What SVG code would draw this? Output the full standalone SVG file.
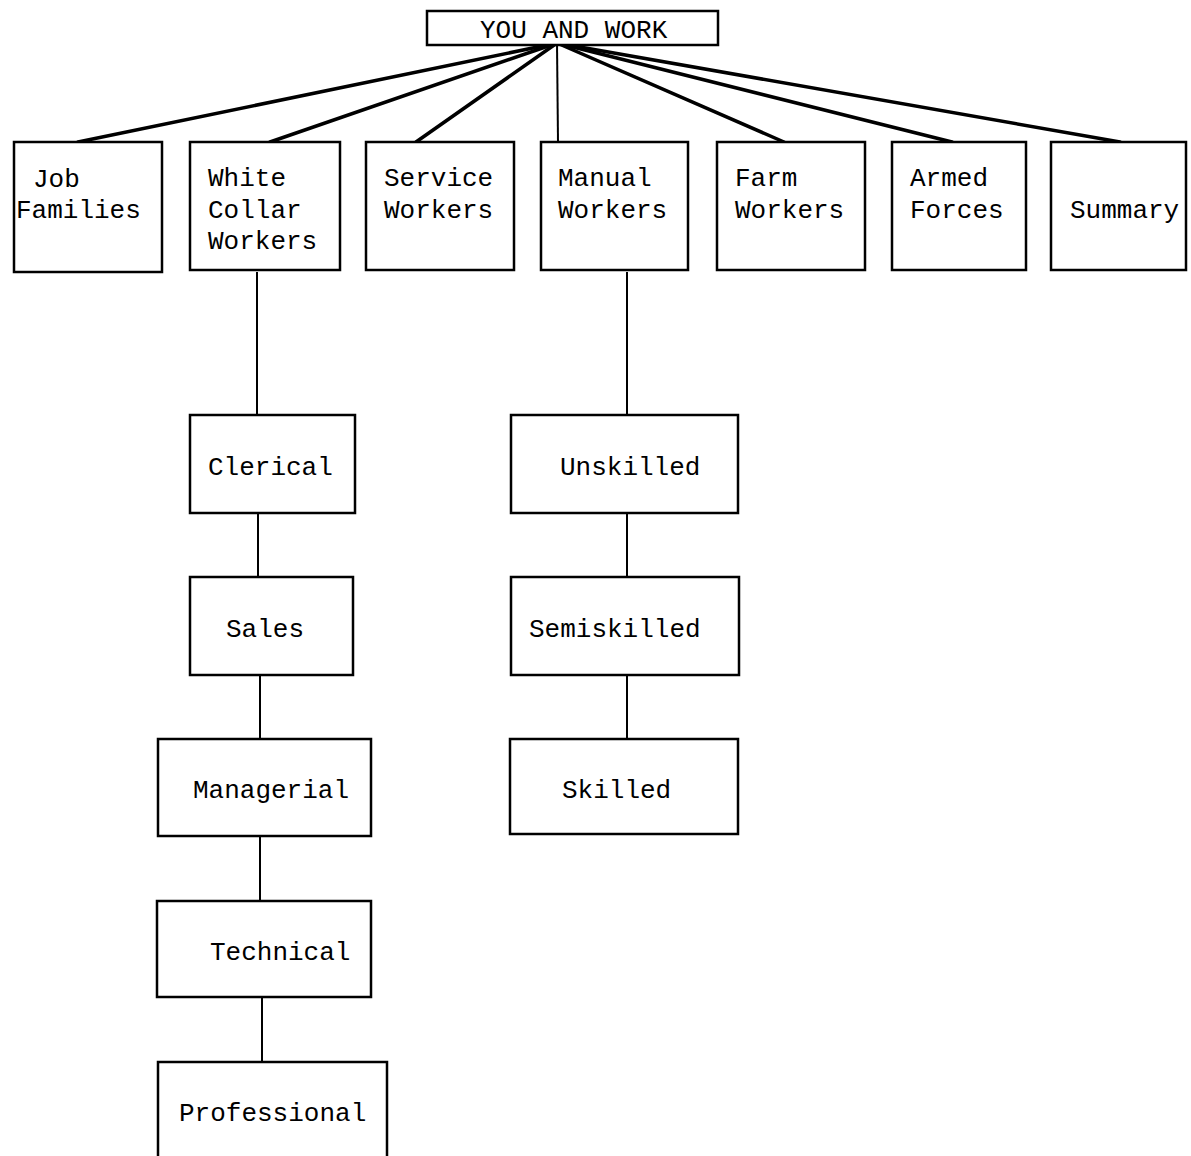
<svg xmlns="http://www.w3.org/2000/svg" width="1191" height="1156" viewBox="0 0 1191 1156">
<style>
.box{fill:#fff;stroke:#000;stroke-width:2.5}
.t{font-family:"Liberation Mono","DejaVu Sans Mono",monospace;font-size:26px;fill:#000}
.thick{stroke:#000;stroke-width:3.5;fill:none;stroke-linecap:round}
.thin{stroke:#000;stroke-width:2;fill:none}
</style>
<rect width="1191" height="1156" fill="#fff"/>
<g id="connectors">
<line class="thick" x1="557" y1="43" x2="78" y2="142"/>
<line class="thick" x1="557" y1="43" x2="270" y2="142"/>
<line class="thick" x1="557" y1="43" x2="416" y2="142"/>
<line class="thin" x1="557" y1="43" x2="558" y2="142"/>
<line class="thick" x1="557" y1="43" x2="784" y2="142"/>
<line class="thick" x1="557" y1="43" x2="952" y2="142"/>
<line class="thick" x1="557" y1="43" x2="1120" y2="142"/>
<line class="thin" x1="257" y1="272" x2="257" y2="415"/>
<line class="thin" x1="258" y1="513" x2="258" y2="577"/>
<line class="thin" x1="260" y1="675" x2="260" y2="739"/>
<line class="thin" x1="260" y1="836" x2="260" y2="901"/>
<line class="thin" x1="262" y1="997" x2="262" y2="1062"/>
<line class="thin" x1="627" y1="272" x2="627" y2="415"/>
<line class="thin" x1="627" y1="513" x2="627" y2="577"/>
<line class="thin" x1="627" y1="675" x2="627" y2="739"/>
</g>
<g id="root"><rect class="box" x="427" y="11" width="291" height="34"/><text class="t" x="480" y="38">YOU AND WORK</text></g>
<g id="job-families"><rect class="box" x="14" y="142" width="148" height="130"/><text class="t" x="33" y="187">Job</text><text class="t" x="16" y="218">Families</text></g>
<g id="white-collar"><rect class="box" x="190" y="142" width="150" height="128"/><text class="t" x="208" y="186">White</text><text class="t" x="208" y="218">Collar</text><text class="t" x="208" y="249">Workers</text></g>
<g id="service"><rect class="box" x="366" y="142" width="148" height="128"/><text class="t" x="384" y="186">Service</text><text class="t" x="384" y="218">Workers</text></g>
<g id="manual"><rect class="box" x="541" y="142" width="147" height="128"/><text class="t" x="558" y="186">Manual</text><text class="t" x="558" y="218">Workers</text></g>
<g id="farm"><rect class="box" x="717" y="142" width="148" height="128"/><text class="t" x="735" y="186">Farm</text><text class="t" x="735" y="218">Workers</text></g>
<g id="armed"><rect class="box" x="892" y="142" width="134" height="128"/><text class="t" x="910" y="186">Armed</text><text class="t" x="910" y="218">Forces</text></g>
<g id="summary"><rect class="box" x="1051" y="142" width="135" height="128"/><text class="t" x="1070" y="218">Summary</text></g>
<g id="clerical"><rect class="box" x="190" y="415" width="165" height="98"/><text class="t" x="208" y="475">Clerical</text></g>
<g id="sales"><rect class="box" x="190" y="577" width="163" height="98"/><text class="t" x="226" y="637">Sales</text></g>
<g id="managerial"><rect class="box" x="158" y="739" width="213" height="97"/><text class="t" x="193" y="798">Managerial</text></g>
<g id="technical"><rect class="box" x="157" y="901" width="214" height="96"/><text class="t" x="210" y="960">Technical</text></g>
<g id="professional"><rect class="box" x="158" y="1062" width="229" height="100"/><text class="t" x="179" y="1121">Professional</text></g>
<g id="unskilled"><rect class="box" x="511" y="415" width="227" height="98"/><text class="t" x="560" y="475">Unskilled</text></g>
<g id="semiskilled"><rect class="box" x="511" y="577" width="228" height="98"/><text class="t" x="529" y="637">Semiskilled</text></g>
<g id="skilled"><rect class="box" x="510" y="739" width="228" height="95"/><text class="t" x="562" y="798">Skilled</text></g>
</svg>
